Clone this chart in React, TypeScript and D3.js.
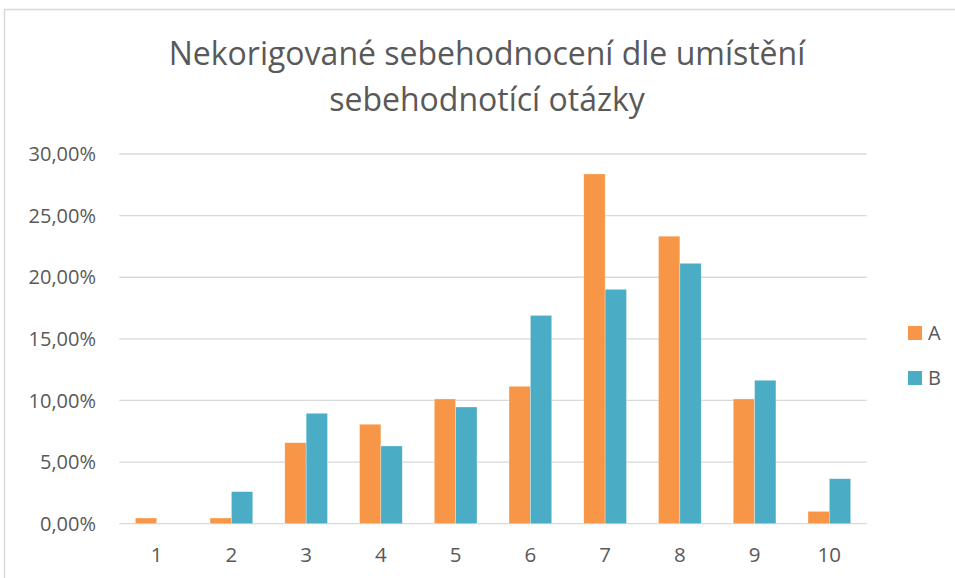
import React from 'react';
import * as d3 from 'd3';

const categories = ['1', '2', '3', '4', '5', '6', '7', '8', '9', '10'];
const seriesNames = ['A', 'B'];
const valuesA = [0.0046, 0.0046, 0.0657, 0.0807, 0.1012, 0.1115, 0.2838, 0.2333, 0.1012, 0.01];
const valuesB = [0, 0.026, 0.0896, 0.0631, 0.0947, 0.169, 0.1902, 0.2113, 0.1164, 0.0365];
const yTicks = [0, 0.05, 0.1, 0.15, 0.2, 0.25, 0.3];
const colors = ['#F79646', '#4BACC6'];
const titleLines = ['Nekorigované sebehodnocení dle umístění', 'sebehodnotící otázky'];

const W = 955;
const H = 578;
const FONT = '"Open Sans", "Noto Sans", sans-serif';
const TEXT = '#595959';
const GRID = '#d9d9d9';

const cs = d3.formatLocale({ decimal: ',', thousands: '\u00a0', grouping: [3], currency: ['', ' Kč'] });
const pct = cs.format('.2%');

const App = () => {
  const left = 119.3;
  const right = 866.7;
  const top = 154;
  const bottom = 523.7;

  const x = d3.scaleBand().domain(categories).range([left, right]).paddingInner(0.4286).paddingOuter(0.2143);
  const y = d3.scaleLinear().domain([0, 0.3]).range([bottom, top]);
  const inner = d3.scaleBand().domain(seriesNames).range([0, x.bandwidth()]);
  const series = [valuesA, valuesB];

  return (
    <svg width={W} height={H} style={{ position: 'absolute', left: 0, top: 0, background: '#fff' }} fontFamily={FONT}>
      <rect x={4.5} y={9.5} width={W + 10} height={H + 10} fill="#fff" stroke={GRID} strokeWidth={1.5} />

      {titleLines.map((t, i) => (
        <text key={t} x={487} y={65 + i * 46} textAnchor="middle" fontSize={32} fill={TEXT}>
          {t}
        </text>
      ))}

      {yTicks.map((v) => (
        <g key={v}>
          <line x1={left} x2={right} y1={y(v)} y2={y(v)} stroke={GRID} strokeWidth={1.3} />
          <text x={96} y={y(v)} dy="0.36em" textAnchor="end" fontSize={20} fill={TEXT}>
            {pct(v)}
          </text>
        </g>
      ))}

      {series.map((vals, si) =>
        vals.map((v, ci) => (
          <rect
            key={`${si}-${ci}`}
            x={(x(categories[ci]) ?? 0) + (inner(seriesNames[si]) ?? 0)}
            y={y(v)}
            width={inner.bandwidth()}
            height={bottom - y(v)}
            fill={colors[si]}
            stroke="#ffffff"
            strokeOpacity={0.5}
            strokeWidth={0.6}
          />
        ))
      )}

      {categories.map((c) => (
        <text key={c} x={(x(c) ?? 0) + x.bandwidth() / 2} y={562} textAnchor="middle" fontSize={20.5} fill={TEXT}>
          {c}
        </text>
      ))}

      {seriesNames.map((s, i) => (
        <g key={s} transform={`translate(908,${326 + i * 45})`}>
          <rect width={14} height={14} fill={colors[i]} />
          <text x={20} y={14} fontSize={20} fill={TEXT}>
            {s}
          </text>
        </g>
      ))}
    </svg>
  );
};

export default App;
